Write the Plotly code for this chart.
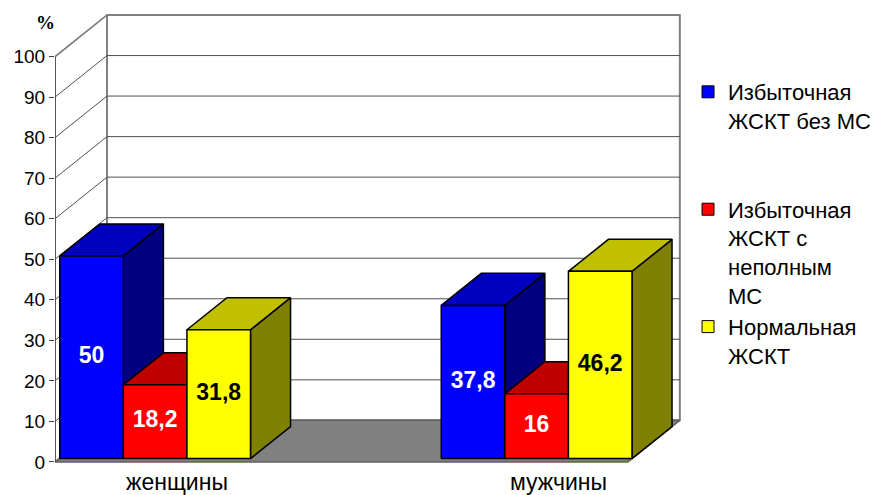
import plotly.graph_objects as go

# --- data -------------------------------------------------------------
categories = ["женщины", "мужчины"]
series_names = [
    "Избыточная<br>ЖСКТ без МС",
    "Избыточная<br>ЖСКТ с<br>неполным<br>МС",
    "Нормальная<br>ЖСКТ",
]
excess_without_ms = [50.0, 37.8]
excess_partial_ms = [18.2, 16.0]
normal_eat = [31.8, 46.2]
y_ticks = list(range(0, 101, 10))

series_values = [excess_without_ms, excess_partial_ms, normal_eat]

# face colours: front, top, side
series_colors = [
    ("#0000FF", "#0000C0", "#000080"),
    ("#FF0000", "#C00000", "#800000"),
    ("#FFFF00", "#C0C000", "#808000"),
]
label_colors = ["white", "white", "black"]

# --- oblique projection settings (data units) ---------------------------
FONT = "Liberation Sans"
X_MIN, X_MAX = -0.2516, 1.3946
Y_MIN, Y_MAX = -1.0, 111.0
FLOOR_RIGHT = 1.25          # right end of the floor at the front
DEPTH_X = 0.1363            # full depth shift along x
DEPTH_Y = 10.26             # full depth shift along y
BAR_FRONT, BAR_BACK = 0.08, 0.85   # bar depth span as fraction of full depth
BAR_W = 1.0 / 6.0


def proj(x, y, depth):
    return x + depth * DEPTH_X, y + depth * DEPTH_Y


def polygon(points, fill, line_color="black", line_width=1.5):
    xs = [p[0] for p in points] + [points[0][0]]
    ys = [p[1] for p in points] + [points[0][1]]
    return go.Scatter(
        x=xs, y=ys, mode="lines", fill="toself", fillcolor=fill,
        line=dict(color=line_color, width=line_width),
        hoverinfo="skip", showlegend=False,
    )


def segment(p0, p1, color, width):
    return go.Scatter(
        x=[p0[0], p1[0]], y=[p0[1], p1[1]], mode="lines",
        line=dict(color=color, width=width),
        hoverinfo="skip", showlegend=False,
    )


fig = go.Figure()

# side wall, back wall and floor
fig.add_trace(polygon(
    [proj(X_MIN, 0, 0), proj(X_MIN, 0, 1), proj(X_MIN, 100, 1), proj(X_MIN, 100, 0)],
    "white", "#808080", 1.5))
fig.add_trace(polygon(
    [proj(X_MIN, 0, 1), proj(FLOOR_RIGHT, 0, 1),
     proj(FLOOR_RIGHT, 100, 1), proj(X_MIN, 100, 1)],
    "white", "#808080", 2))
fig.add_trace(polygon(
    [proj(X_MIN, 0, 0), proj(FLOOR_RIGHT, 0, 0),
     proj(FLOOR_RIGHT, 0, 1), proj(X_MIN, 0, 1)],
    "#808080", "#606060", 1.5))

# gridlines on the back and side walls
for v in y_ticks[1:]:
    color = "#808080" if v == 100 else "#505050"
    fig.add_trace(segment(proj(X_MIN, v, 1), proj(FLOOR_RIGHT, v, 1), color,
                          2 if v == 100 else 1))
    fig.add_trace(segment(proj(X_MIN, v, 0), proj(X_MIN, v, 1), color,
                          1.5 if v == 100 else 1))

# front value axis
fig.add_trace(segment(proj(X_MIN, 0, 0), proj(X_MIN, 100, 0), "#404040", 1.5))

# bars: drawn left to right so nearer faces cover the ones behind
label_x, label_y, label_txt, label_col = [], [], [], []
for g in range(len(categories)):
    for s, vals in enumerate(series_values):
        v = vals[g]
        xc = g + (s - 1) * BAR_W
        xl, xr = xc - BAR_W / 2, xc + BAR_W / 2
        front_c, top_c, side_c = series_colors[s]
        fig.add_trace(polygon(
            [proj(xr, 0, BAR_FRONT), proj(xr, 0, BAR_BACK),
             proj(xr, v, BAR_BACK), proj(xr, v, BAR_FRONT)], side_c))
        fig.add_trace(polygon(
            [proj(xl, v, BAR_FRONT), proj(xr, v, BAR_FRONT),
             proj(xr, v, BAR_BACK), proj(xl, v, BAR_BACK)], top_c))
        fig.add_trace(polygon(
            [proj(xl, 0, BAR_FRONT), proj(xr, 0, BAR_FRONT),
             proj(xr, v, BAR_FRONT), proj(xl, v, BAR_FRONT)], front_c))
        lx, ly = proj(xc, v / 2, BAR_FRONT)
        label_x.append(lx)
        label_y.append(ly)
        label_txt.append("<b>" + f"{v:g}".replace(".", ",") + "</b>")
        label_col.append(label_colors[s])

fig.add_trace(go.Scatter(
    x=label_x, y=label_y, mode="text", text=label_txt,
    textfont=dict(family=FONT, size=23, color=label_col),
    textposition="middle center", hoverinfo="skip", showlegend=False,
))

# legend entries
legend_pad = ["<br>\u00a0<br>\u00a0", "", ""]
for s, name in enumerate(series_names):
    fig.add_trace(go.Scatter(
        x=[None], y=[None], mode="markers", name=name + legend_pad[s],
        marker=dict(symbol="square", size=12, color=series_colors[s][0],
                    line=dict(color="black", width=1)),
    ))

fig.add_annotation(
    text="<b>%</b>", x=-0.0145, y=0.977, xref="paper", yref="paper",
    xanchor="center", yanchor="middle", showarrow=False,
    font=dict(family="Liberation Serif", size=19, color="black"),
)

fig.update_layout(
    width=872, height=495, autosize=False,
    margin=dict(l=55, r=189, t=12, b=29, autoexpand=False),
    paper_bgcolor="white", plot_bgcolor="white",
    font=dict(family=FONT, color="black"),
    xaxis=dict(
        range=[X_MIN, X_MAX], showgrid=False, zeroline=False, showline=False,
        tickvals=[g + DEPTH_X / 2 for g in range(len(categories))],
        ticktext=categories, ticks="", tickfont=dict(size=23),
    ),
    yaxis=dict(
        range=[Y_MIN, Y_MAX], showgrid=False, zeroline=False, showline=False,
        tickvals=y_ticks, ticks="outside", ticklen=5, tickcolor="#404040",
        tickfont=dict(size=19),
    ),
    legend=dict(
        x=1.008, y=0.87, xanchor="left", yanchor="top", valign="top",
        font=dict(family=FONT, size=22), bgcolor="rgba(0,0,0,0)",
        tracegroupgap=0,
    ),
    showlegend=True,
)

fig.write_html("out.html")
